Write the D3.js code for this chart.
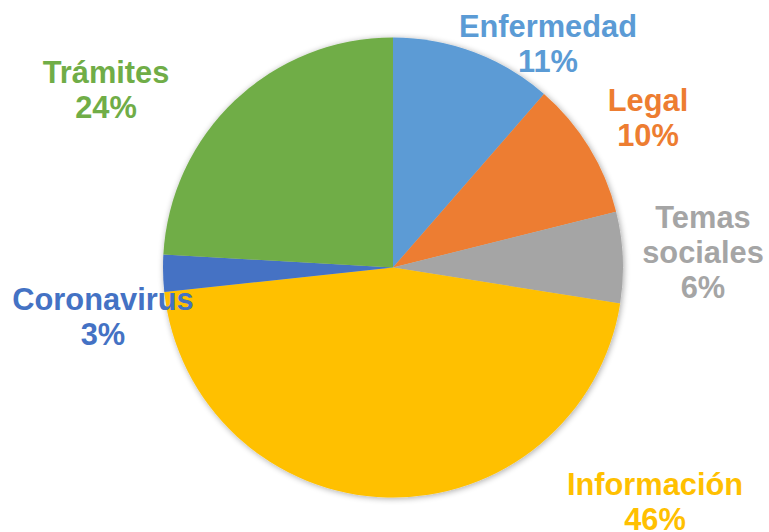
<!DOCTYPE html>
<html>
<head>
<meta charset="utf-8">
<script src="https://cdn.jsdelivr.net/npm/d3@7"></script>
<style>
  html, body { margin: 0; padding: 0; background: #fff; }
  svg { display: block; }
</style>
</head>
<body>
<svg id="chart" width="769" height="532"></svg>
<script>
const categories = ["Enfermedad", "Legal", "Temas sociales", "Información", "Coronavirus", "Trámites"];
const values = [11.4, 9.7, 6.4, 45.8, 2.6, 24.1];
const percentLabels = ["11%", "10%", "6%", "46%", "3%", "24%"];
const colors = ["#5B9BD5", "#ED7D31", "#A5A5A5", "#FFC000", "#4472C4", "#70AD47"];
// label line breaks
const labelLines = [["Enfermedad"], ["Legal"], ["Temas", "sociales"], ["Información"], ["Coronavirus"], ["Trámites"]];
// label anchor positions (x center, first baseline)
const labelPos = [[548, 37], [648, 111], [703, 228], [655, 495], [103, 310], [106, 83]];

const svg = d3.select("#chart");
const cx = 393, cy = 267.5, r = 230;

const defs = svg.append("defs");
const f = defs.append("filter").attr("id", "shadow").attr("x", "-20%").attr("y", "-20%").attr("width", "140%").attr("height", "140%");
f.append("feGaussianBlur").attr("in", "SourceAlpha").attr("stdDeviation", 3);
f.append("feOffset").attr("dx", 1).attr("dy", 1).attr("result", "b");
f.append("feComponentTransfer").append("feFuncA").attr("type", "linear").attr("slope", 0.35);
const m = f.append("feMerge");
m.append("feMergeNode");
m.append("feMergeNode").attr("in", "SourceGraphic");

const pie = d3.pie().sort(null).value(d => d)(values);
const arc = d3.arc().innerRadius(0).outerRadius(r);

const g = svg.append("g").attr("transform", `translate(${cx},${cy})`);
const sh = g.append("g").attr("filter", "url(#shadow)");
sh.selectAll("path").data(pie).join("path")
  .attr("d", arc)
  .attr("fill", (d, i) => colors[i]);

const lineH = 35;
const lbl = svg.append("g")
  .attr("font-family", "'Liberation Sans', Arial, sans-serif")
  .attr("font-weight", "bold")
  .attr("font-size", 30.8)
  .attr("text-anchor", "middle");

categories.forEach((c, i) => {
  const t = lbl.append("text").attr("fill", colors[i]);
  const lines = labelLines[i].concat([percentLabels[i]]);
  lines.forEach((ln, k) => {
    t.append("tspan").attr("x", labelPos[i][0]).attr("y", labelPos[i][1] + k * lineH).text(ln);
  });
});
</script>
</body>
</html>
